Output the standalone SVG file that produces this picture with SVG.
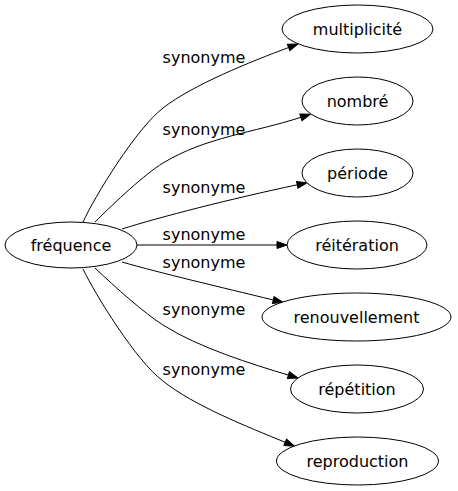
<svg xmlns="http://www.w3.org/2000/svg" width="458" height="491" viewBox="0 0 458 491">
<style>
.n ellipse{fill:#fff;stroke:#000;stroke-width:1}
text{font-family:"DejaVu Sans",sans-serif;font-size:16px;fill:#000}
.n text{text-anchor:middle}
.e path{fill:none;stroke:#000;stroke-width:1;marker-end:url(#a)}
.l text{text-anchor:middle}
</style>
<defs>
<marker id="a" markerWidth="11" markerHeight="8" refX="0" refY="3.5" orient="auto" markerUnits="userSpaceOnUse" overflow="visible">
<path d="M0,0 L10,3.5 L0,7 z" fill="#000" stroke="#000" stroke-width="1"/>
</marker>
</defs>
<rect width="458" height="491" fill="#fff"/>
<g class="e" id="edges">
<path d="M83,222 C95,196 136,129 163,108 C193,84.7 250,62 288.6,47.5"/>
<path d="M95,222 C115,202 145,174 163,163 C206,137 253.5,132.7 300.9,117.3"/>
<path d="M122,229 C160,217 230,199 297.2,184.8"/>
<path d="M137,245 L277,245"/>
<path d="M122,262 C160,273 220,287 273.3,300"/>
<path d="M95,268 C115,287 144,313 163,325 C198,347.5 253.4,364.6 288.4,375.1"/>
<path d="M83,269 C95,294 136,361 163,381 C193,405.3 248,427 285.2,442.3"/>
</g>
<g class="l" id="labels">
<text x="204" y="63">synonyme</text>
<text x="204" y="135">synonyme</text>
<text x="204" y="193">synonyme</text>
<text x="204" y="240">synonyme</text>
<text x="204" y="268">synonyme</text>
<text x="204" y="315">synonyme</text>
<text x="204" y="375">synonyme</text>
</g>
<g class="n" id="frequence"><ellipse cx="71" cy="245" rx="66" ry="23"/><text x="71" y="250.5">fréquence</text></g>
<g class="n" id="multiplicite"><ellipse cx="357.5" cy="29" rx="75.5" ry="24"/><text x="357.5" y="34.5">multiplicité</text></g>
<g class="n" id="nombre"><ellipse cx="357.5" cy="101" rx="55.5" ry="24"/><text x="357.5" y="106.5">nombré</text></g>
<g class="n" id="periode"><ellipse cx="357.5" cy="173" rx="55.5" ry="24"/><text x="357.5" y="178.5">période</text></g>
<g class="n" id="reiteration"><ellipse cx="357" cy="245" rx="70" ry="24"/><text x="357" y="250.5">réitération</text></g>
<g class="n" id="renouvellement"><ellipse cx="356.5" cy="317" rx="94.5" ry="24"/><text x="356.5" y="322.5">renouvellement</text></g>
<g class="n" id="repetition"><ellipse cx="357" cy="389" rx="66.5" ry="24"/><text x="357" y="394.5">répétition</text></g>
<g class="n" id="reproduction"><ellipse cx="357.5" cy="461" rx="81" ry="24"/><text x="357.5" y="466.5">reproduction</text></g>
</svg>
